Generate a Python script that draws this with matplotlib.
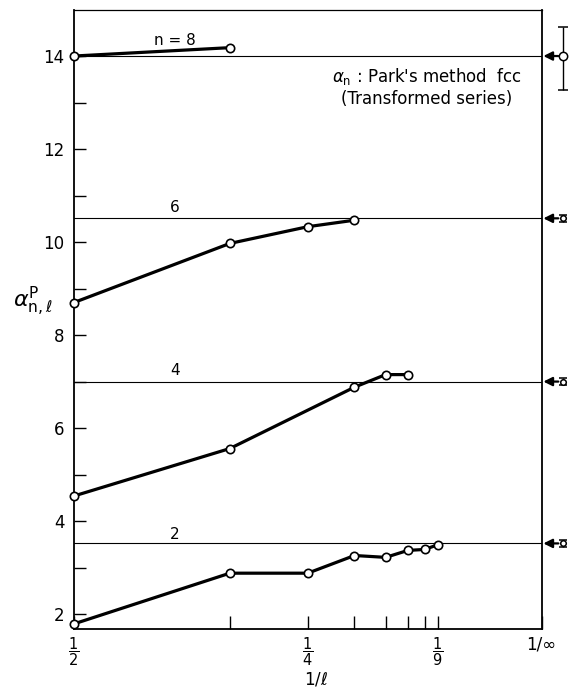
import matplotlib
matplotlib.use("Agg")
import matplotlib.pyplot as plt
import matplotlib.transforms as mtransforms
import numpy as np

plt.rcParams['font.family'] = ['DejaVu Sans']
plt.rcParams['mathtext.fontset'] = 'dejavusans'

# ---- data (x given as l, plotted at 1/l) ----
n2_l = [2, 3, 4, 5, 6, 7, 8, 9]
n2_y = [1.79, 2.88, 2.88, 3.26, 3.22, 3.37, 3.39, 3.49]
n4_l = [2, 3, 5, 6, 7]
n4_y = [4.54, 5.56, 6.88, 7.15, 7.15]
n6_l = [2, 3, 4, 5]
n6_y = [8.70, 9.97, 10.33, 10.47]
n8_l = [2, 3]
n8_y = [14.0, 14.18]
series_l = [n2_l, n4_l, n6_l, n8_l]
series_y = [n2_y, n4_y, n6_y, n8_y]

limit_vals = [3.52, 7.0, 10.51, 14.0]          # alpha_n limits (horizontal lines)
limit_err_lo = [0.07, 0.07, 0.07, 0.74]
limit_err_hi = [0.07, 0.07, 0.07, 0.63]
line_labels = ["2", "4", "6", "n = 8"]
line_label_y = [3.71, 7.23, 10.75, 14.33]

xtick_l = [2, 4, 9]
xtick_labels = [r'$\dfrac{1}{2}$', r'$\dfrac{1}{4}$', r'$\dfrac{1}{9}$', '1/∞']
xminor_l = [3, 5, 6, 7, 8]
yticks_major = [2, 4, 6, 8, 10, 12, 14]
yticks_minor = [3, 5, 7, 9, 11, 13]

fig = plt.figure(figsize=(5.7, 6.9), dpi=100)
ax = fig.add_axes([0.1298, 0.0891, 0.8202, 0.8971])
ax.set_xlim(0.5, 0.0)
ax.set_ylim(1.69, 15.0)

# horizontal limit lines
for v in limit_vals:
    ax.axhline(v, color='black', lw=0.8, zorder=1)

# data series
for ls, ys in zip(series_l, series_y):
    xs = [1.0 / l for l in ls]
    ax.plot(xs, ys, '-', color='black', lw=2.3, zorder=3)
    ax.plot(xs, ys, 'o', ms=6, mfc='white', mec='black', mew=1.2, zorder=4,
            clip_on=False)

# line labels
for lab, yl in zip(line_labels, line_label_y):
    ax.text(0.392, yl, lab, ha='center', va='center', fontsize=11)

# annotation
trans = mtransforms.blended_transform_factory(ax.transAxes, ax.transData)
ax.text(0.755, 13.56, r"$\alpha_{\rm n}$ : Park's method  fcc", transform=trans,
        ha='center', va='center', fontsize=12)
ax.text(0.755, 13.07, "(Transformed series)", transform=trans,
        ha='center', va='center', fontsize=12)

# arrows and limit symbols to the right of the frame
for v, lo, hi in zip(limit_vals, limit_err_lo, limit_err_hi):
    ax.annotate('', xy=(1.004, v), xycoords=trans, xytext=(1.036, v),
                textcoords=trans,
                arrowprops=dict(arrowstyle='-|>', color='black', lw=1.6,
                                mutation_scale=13, shrinkA=0, shrinkB=0),
                annotation_clip=False)
    big = hi > 0.3
    ax.errorbar([1.046], [v], yerr=[[lo], [hi]], transform=trans, fmt='o',
                ms=6 if big else 4, mfc='white', mec='black', mew=1.1,
                ecolor='black', elinewidth=1.0, capsize=3.5 if big else 3,
                capthick=1.0, clip_on=False, zorder=5)

# ticks
ax.set_xticks([1.0 / l for l in xtick_l] + [0.0])
ax.set_xticklabels(xtick_labels, fontsize=10.5)
ax.get_xticklabels()[-1].set_fontsize(12)
ax.set_xticks([1.0 / l for l in xminor_l], minor=True)
ax.tick_params(axis='x', which='both', direction='in', length=9.5, width=1.0,
               pad=5)
ax.set_yticks(yticks_major)
ax.set_yticklabels([str(t) for t in yticks_major], fontsize=12)
ax.set_yticks(yticks_minor, minor=True)
ax.tick_params(axis='y', which='both', direction='in', length=8.5, width=1.0,
               pad=7)
ax.tick_params(top=False, right=False)

for sp in ['left', 'right', 'bottom']:
    ax.spines[sp].set_linewidth(1.3)
ax.spines['top'].set_linewidth(0.9)

ax.set_xlabel(r'$1/\ell$', fontsize=12, va='center')
ax.xaxis.set_label_coords(0.518, -0.082)
ax.set_ylabel(r'$\alpha^{\rm P}_{{\rm n},\ell}$', fontsize=16, rotation=0,
              va='center', ha='center')
ax.yaxis.set_label_coords(-0.088, 0.527)

fig.savefig('out.png', dpi=100)
